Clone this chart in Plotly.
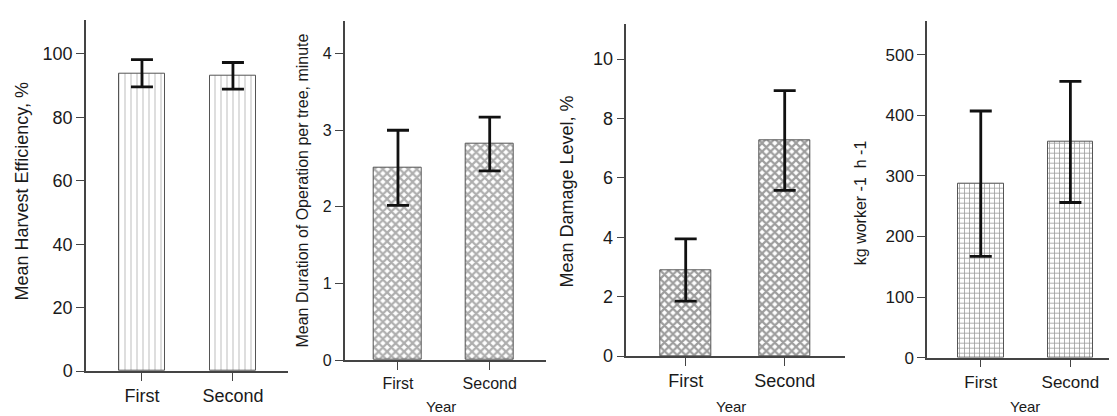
import plotly.graph_objects as go

categories = ["First", "Second"]

harvest_eff = [93.9, 93.1]
harvest_eff_sd = [4.3, 4.2]

duration = [2.51, 2.82]
duration_sd = [0.49, 0.35]

damage = [2.90, 7.26]
damage_sd = [1.05, 1.68]

productivity = [287, 356]
productivity_sd = [120, 100]

W, H = 1117, 416
FONT = "Liberation Sans, Arial, sans-serif"

def fx(px):
    return px / W

def fy(py):
    return (H - py) / H

panels = [
    dict(vals=harvest_eff, sd=harvest_eff_sd, xdom=[fx(78), fx(280)], ydom=[fy(372), fy(12)],
         xr=[-0.615, 1.605], yr=[0, 110.8], dtick=20, bw=0.505,
         pat=dict(shape="|", fgcolor="#a8a8a8", bgcolor="white", size=6, solidity=0.25),
         title="Mean Harvest Efficiency, %", tx=14, ty=188, tsize=18, fs=18, year=False),
    dict(vals=duration, sd=duration_sd, xdom=[fx(336.7), fx(538)], ydom=[fy(360.7), fy(13)],
         xr=[-0.581, 1.614], yr=[0, 4.43], dtick=1, bw=0.52,
         pat=dict(shape="x", fgcolor="#5e5e5e", bgcolor="white", size=6, solidity=0.6),
         title="Mean Duration of Operation per tree, minute", tx=295, ty=187, tsize=16, fs=16, year=True, yx=433),
    dict(vals=damage, sd=damage_sd, xdom=[fx(618.3), fx(836.7)], ydom=[fy(356.7), fy(16.7)],
         xr=[-0.6, 1.606], yr=[0, 11.17], dtick=2, bw=0.515,
         pat=dict(shape="x", fgcolor="#3c3c3c", bgcolor="white", size=6, solidity=0.6),
         title="Mean Damage Level, %", tx=559, ty=188, tsize=18, fs=18, year=True, yx=723),
    dict(vals=productivity, sd=productivity_sd, xdom=[fx(919), fx(1116.7)], ydom=[fy(358.3), fy(13)],
         xr=[-0.6, 1.606], yr=[0, 556], dtick=100, bw=0.51,
         pat=dict(shape="+", fgcolor="#3a3a3a", bgcolor="white", size=5, solidity=0.3),
         title="kg worker -1  h -1", tx=852, ty=200, tsize=16, fs=17, year=True, yx=1017),
]

fig = go.Figure()
annotations = []
for i, p in enumerate(panels, start=1):
    xa = "x" if i == 1 else f"x{i}"
    ya = "y" if i == 1 else f"y{i}"
    fig.add_trace(go.Bar(
        x=categories, y=p["vals"], width=p["bw"],
        marker=dict(color="white", line=dict(color="#555555", width=1), pattern=p["pat"]),
        error_y=dict(type="data", array=p["sd"], visible=True, color="#111111", thickness=2.8, width=11),
        xaxis=xa, yaxis=ya, showlegend=False,
    ))
    axis_common = dict(showline=True, linecolor="#444444", linewidth=1.5, ticks="outside",
                       tickcolor="#444444", ticklen=8, tickwidth=1.2, showgrid=False, zeroline=False,
                       tickfont=dict(family=FONT, size=p["fs"], color="#1a1a1a"))
    xkey = "xaxis" if i == 1 else f"xaxis{i}"
    ykey = "yaxis" if i == 1 else f"yaxis{i}"
    fig.update_layout(**{
        xkey: dict(domain=p["xdom"], range=p["xr"], anchor=ya, type="category", **axis_common),
        ykey: dict(domain=p["ydom"], range=p["yr"], anchor=xa, dtick=p["dtick"], tick0=0, **axis_common),
    })
    annotations.append(dict(text=p["title"], x=fx(p["tx"]), y=fy(p["ty"]), xref="paper", yref="paper",
                            textangle=-90, showarrow=False, xanchor="center", yanchor="middle",
                            font=dict(family=FONT, size=p["tsize"], color="#1a1a1a")))
    if p["year"]:
        annotations.append(dict(text="Year", x=fx(p["yx"]), y=fy(408), xref="paper", yref="paper",
                                showarrow=False, xanchor="center", yanchor="middle",
                                font=dict(family=FONT, size=15, color="#1a1a1a")))

fig.update_layout(width=W, height=H, margin=dict(l=0, r=0, t=0, b=0),
                  paper_bgcolor="white", plot_bgcolor="white", annotations=annotations,
                  bargap=0)
fig.write_html("out.html")
